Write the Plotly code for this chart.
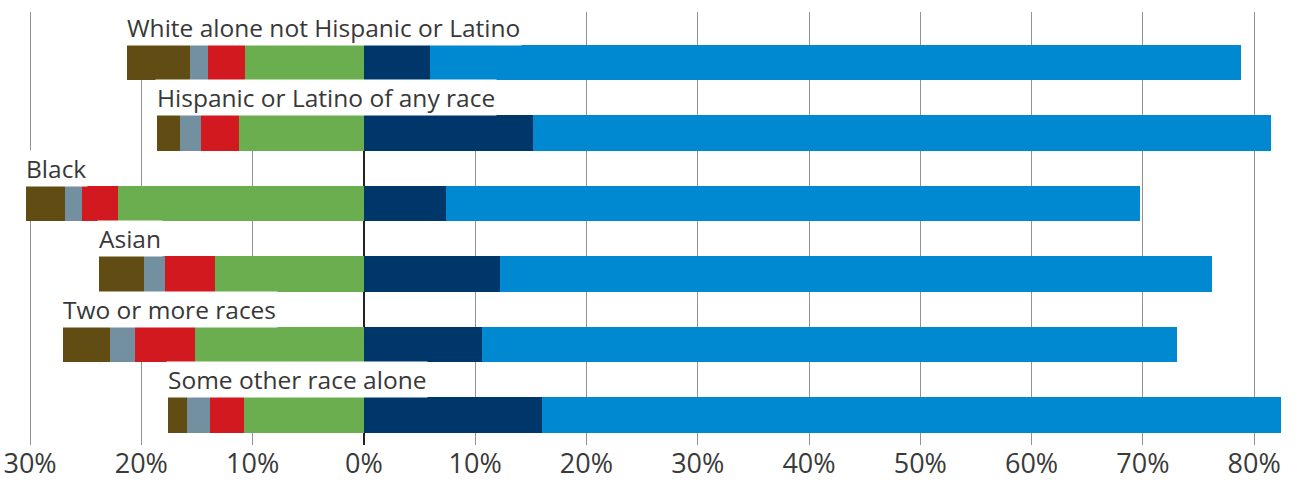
import plotly.graph_objects as go

categories = [
    "White alone not Hispanic or Latino",
    "Hispanic or Latino of any race",
    "Black",
    "Asian",
    "Two or more races",
    "Some other race alone",
]

# left-side segments (shown as negative), from zero outward
green_vals = [10.7, 11.2, 22.1, 13.4, 15.2, 10.8]
red_vals = [3.3, 3.4, 3.2, 4.5, 5.4, 3.0]
gray_vals = [1.6, 1.9, 1.6, 1.9, 2.2, 2.1]
brown_vals = [5.7, 2.1, 3.5, 4.0, 4.2, 1.7]

# right-side segments
navy_vals = [5.9, 15.2, 7.4, 12.2, 10.6, 16.0]
blue_vals = [72.9, 66.3, 62.3, 64.0, 62.5, 66.4]

tick_vals = [-30, -20, -10, 0, 10, 20, 30, 40, 50, 60, 70, 80]
tick_text = ["30%", "20%", "10%", "0%", "10%", "20%", "30%", "40%", "50%", "60%", "70%", "80%"]

colors = {
    "green": "#6aae4f",
    "red": "#d1191f",
    "gray": "#7390a0",
    "brown": "#614c13",
    "navy": "#00376a",
    "blue": "#0089d1",
}

ypos = list(range(len(categories)))

fig = go.Figure()
for name, vals, sign in [
    ("green", green_vals, -1),
    ("red", red_vals, -1),
    ("gray", gray_vals, -1),
    ("brown", brown_vals, -1),
    ("navy", navy_vals, 1),
    ("blue", blue_vals, 1),
]:
    fig.add_trace(go.Bar(
        y=ypos,
        x=[sign * v for v in vals],
        orientation="h",
        width=0.5,
        marker=dict(color=colors[name], line=dict(width=0)),
        name=name,
        showlegend=False,
        hoverinfo="skip",
    ))

for i, cat in enumerate(categories):
    left = -(green_vals[i] + red_vals[i] + gray_vals[i] + brown_vals[i])
    fig.add_annotation(
        x=left, y=i - 0.25, xref="x", yref="y",
        text=cat, showarrow=False,
        xanchor="left", yanchor="bottom",
        xshift=-2, yshift=-1,
        bgcolor="white", borderpad=1,
        font=dict(family="Open Sans", size=24.5, color="#383838"),
    )

fig.update_layout(
    barmode="relative",
    width=1302, height=487,
    margin=dict(l=0, r=0, t=12, b=42, autoexpand=False),
    plot_bgcolor="white",
    paper_bgcolor="white",
    bargap=0,
)
fig.update_xaxes(
    range=[-32.7, 84.3],
    tickvals=tick_vals, ticktext=tick_text,
    showgrid=True, gridcolor="#929292", gridwidth=1.3,
    zeroline=True, zerolinecolor="#222222", zerolinewidth=2,
    showline=False, ticks="", automargin=False,
    tickfont=dict(family="Open Sans", size=27, color="#3a3a3a"),
    ticklabelstandoff=0,
)
fig.update_yaxes(
    range=[5.426, -0.716],
    showgrid=False, zeroline=False, showticklabels=False, showline=False,
    automargin=False,
)

fig.write_html(
    "out.html",
    config={"displayModeBar": False},
    post_script="document.body.style.margin='0';document.body.style.overflow='hidden';",
)
